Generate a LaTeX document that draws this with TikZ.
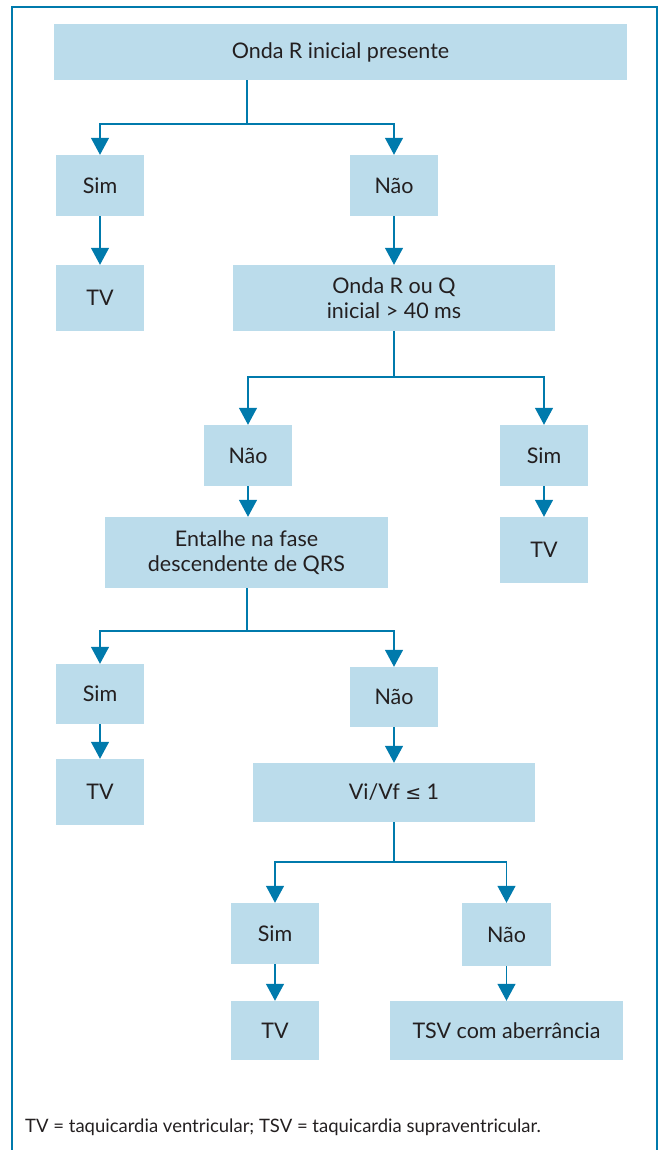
\documentclass[tikz,border=0pt]{standalone}
\usepackage{fontspec}
\setmainfont{Lato}
\usepackage{tikz}
\usetikzlibrary{positioning,calc}
\usetikzlibrary{arrows.meta}
\definecolor{BoxBlue}{RGB}{187, 220, 235}
\definecolor{LineBlue}{RGB}{0, 122, 172}
\definecolor{TextGray}{RGB}{35, 31, 32}

\tikzset{
    box/.style={fill=BoxBlue, inner sep=0pt, align=center, text=TextGray,
        font=\fontsize{21.5pt}{25pt}\selectfont},
    link/.style={draw=LineBlue, line width=1.3pt},
    linkarrow/.style={link, -{Triangle[width=18pt,length=17pt]}}
}

\begin{document}
\begin{tikzpicture}[x=1pt,y=-1pt]
    \useasboundingbox (0,0) rectangle (658,1150);
    % frame
    \draw[LineBlue, line width=1.2pt] (12,1152) -- (12,7) -- (657,7) -- (657,1152);

    % first question
    \node[box, minimum width=573pt, minimum height=56pt] (onda) at (340.5,52) {Onda R inicial presente};
    \node[box, minimum width=88pt, minimum height=61pt] (sim1) at (100,185.5) {Sim};
    \node[box, minimum width=88pt, minimum height=61pt] (nao1) at (394,185.5) {Não};
    \node[box, minimum width=88pt, minimum height=66pt] (tv1) at (100,298) {TV};

    % second question
    \node[box, minimum width=322pt, minimum height=66pt] (ondarq) at (394,298) {Onda R ou Q\\inicial > 40 ms};
    \node[box, minimum width=88pt, minimum height=61pt] (nao2) at (248,455.5) {Não};
    \node[box, minimum width=88pt, minimum height=61pt] (sim2) at (544,455.5) {Sim};
    \node[box, minimum width=88pt, minimum height=66pt] (tv2) at (544,550) {TV};

    % third question
    \node[box, minimum width=283pt, minimum height=71pt] (entalhe) at (246.5,552.5) {Entalhe na fase\\descendente de QRS};
    \node[box, minimum width=88pt, minimum height=60pt] (sim3) at (100,694) {Sim};
    \node[box, minimum width=88pt, minimum height=60pt] (nao3) at (394,697) {Não};
    \node[box, minimum width=88pt, minimum height=66pt] (tv3) at (100,792) {TV};

    % fourth question
    \node[box, minimum width=282pt, minimum height=59pt] (vivf) at (394,792.5) {Vi/Vf {\fontspec{DejaVu Sans}\fontsize{19pt}{25pt}\selectfont ≤} 1};
    \node[box, minimum width=88pt, minimum height=61pt] (sim4) at (275,933.5) {Sim};
    \node[box, minimum width=89pt, minimum height=63pt] (nao4) at (506.5,934.5) {Não};
    \node[box, minimum width=88pt, minimum height=59pt] (tv4) at (275,1030.5) {TV};
    \node[box, minimum width=233pt, minimum height=59pt] (tsv) at (506.5,1030.5) {TSV com aberrância};

    % branch points
    \coordinate (j1) at (247,124);
    \coordinate (j2) at (394,377);
    \coordinate (j3) at (247,631);
    \coordinate (j4) at (394,862);

    \draw[link] (j1 |- onda.south) -- (j1);
    \draw[linkarrow] (j1) -| (sim1);
    \draw[linkarrow] (j1) -| (nao1);
    \draw[linkarrow] (sim1) -- (tv1);
    \draw[linkarrow] (nao1) -- (ondarq);

    \draw[link] (ondarq.south) -- (j2);
    \draw[linkarrow] (j2) -| (nao2);
    \draw[linkarrow] (j2) -| (sim2);
    \draw[linkarrow] (nao2) -- (nao2 |- entalhe.north);
    \draw[linkarrow] (sim2) -- (tv2);

    \draw[link] (j3 |- entalhe.south) -- (j3);
    \draw[linkarrow] (j3) -| (sim3);
    \draw[linkarrow] (j3) -| (nao3);
    \draw[linkarrow] (sim3) -- (tv3);
    \draw[linkarrow] (nao3) -- (vivf);

    \draw[link] (vivf.south) -- (j4);
    \draw[linkarrow] (j4) -| (sim4);
    \draw[linkarrow] (j4) -| (nao4 |- sim4.north);
    \draw[linkarrow] (sim4) -- (tv4);
    \draw[linkarrow] (nao4) -- (tsv);

    % footnote
    \node[anchor=west, text=TextGray, font=\fontsize{18.5pt}{22pt}\selectfont, inner sep=0pt] (nota) at (25,1127)
        {TV = taquicardia ventricular; TSV = taquicardia supraventricular.};
\end{tikzpicture}
\end{document}
